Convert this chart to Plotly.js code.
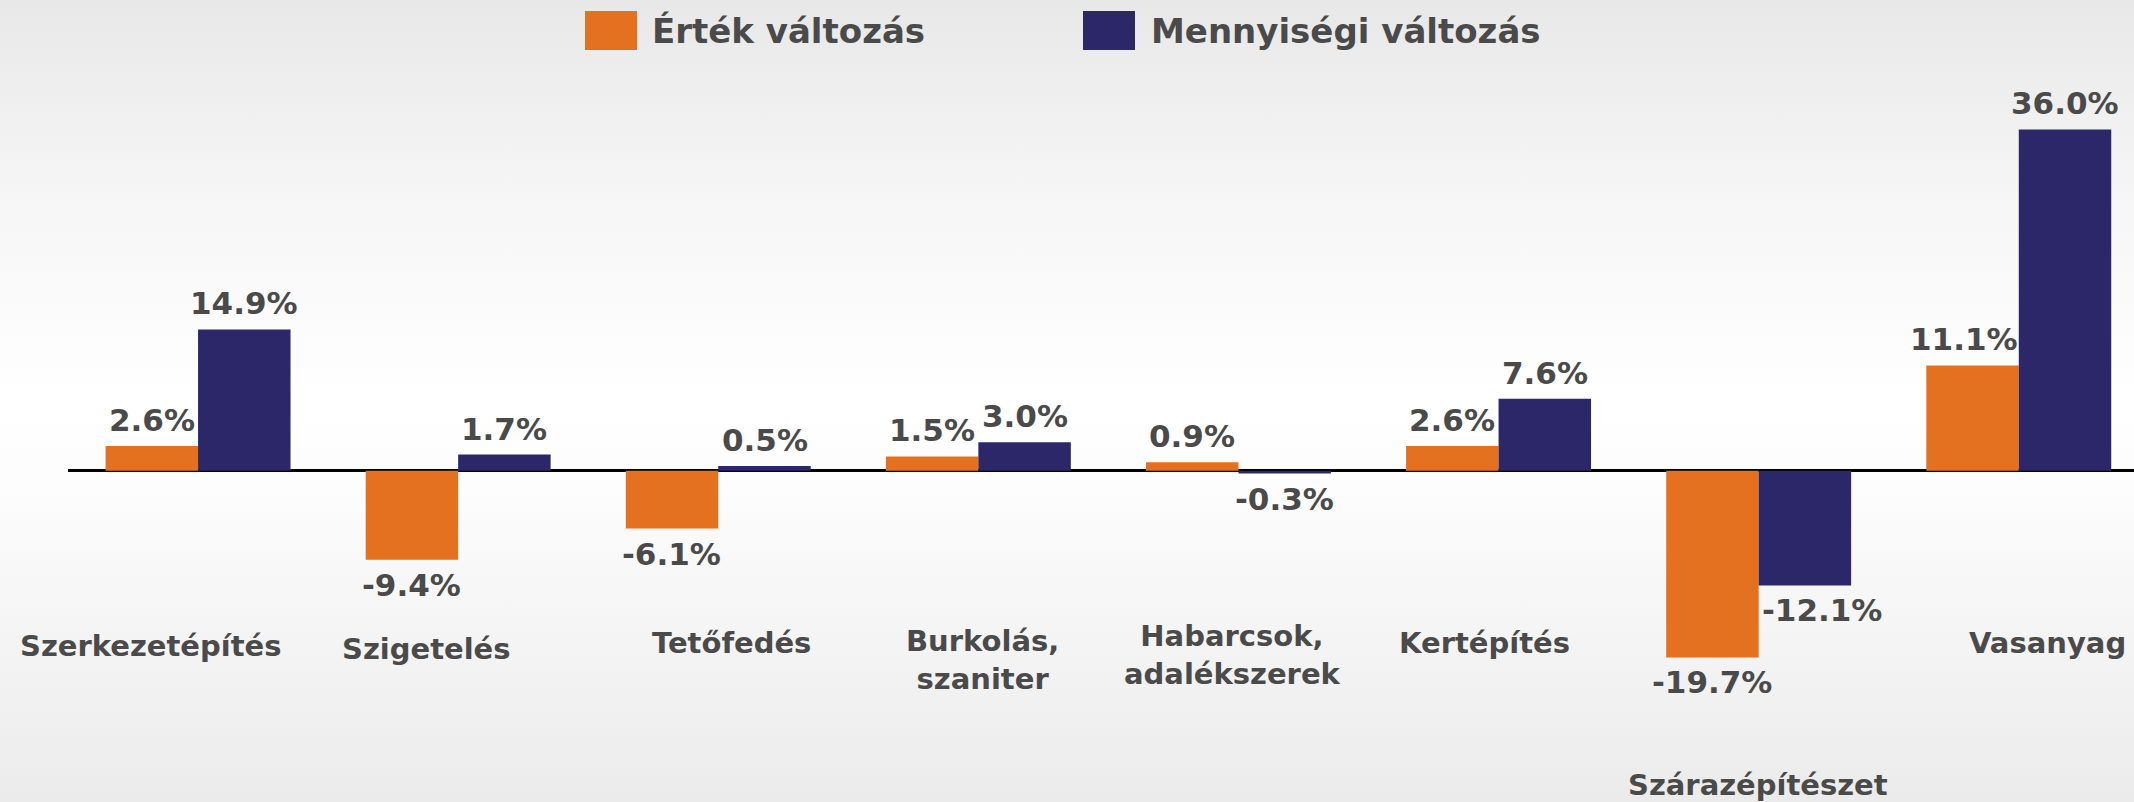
<!DOCTYPE html>
<html>
<head>
<meta charset="utf-8">
<script src="https://cdn.plot.ly/plotly-3.0.1.min.js"></script>
<style>
  html, body { margin: 0; padding: 0; }
  body {
    width: 2134px; height: 802px; overflow: hidden;
    background: linear-gradient(180deg, #e8e8e8 0%, #f6f6f6 25%, #ffffff 50%, #fcfcfc 62%, #ebebeb 100%);
  }
  #chart { width: 2134px; height: 802px; }
</style>
</head>
<body>
<div id="chart"></div>
<script>
// ---- data ----
const categories = ['Szerkezetépítés', 'Szigetelés', 'Tetőfedés', 'Burkolás, szaniter',
                    'Habarcsok, adalékszerek', 'Kertépítés', 'Szárazépítészet', 'Vasanyag'];
const ertekValtozas = [2.6, -9.4, -6.1, 1.5, 0.9, 2.6, -19.7, 11.1];
const mennyisegiValtozas = [14.9, 1.7, 0.5, 3.0, -0.3, 7.6, -12.1, 36.0];
const seriesNames = ['Érték változás', 'Mennyiségi változás'];

// ---- style / placement ----
const W = 2134, H = 802, ML = 68;
const PW = W - ML;
const colors = ['#E3711F', '#2C2768'];
const textColor = '#4a4a4a';
const fontFam = 'DejaVu Sans, Arial, sans-serif';
const catSpacing = 260.1;                       // px per category
const barHalfOffset = 0.178;                    // category units from group centre to bar centre
const labelNudgePx = [-48, -32, 13, 4, -6, -14, -1, 29];
const labelCenterY = [646, 649, 643, 660, 655, 643, 785, 643];
const valueLabelNudgePx = [[0,0,0,0,0,0,0,-8],[0,0,0,0,0,0,17,0]];

function fmt(v) { return v.toFixed(1) + '%'; }

const allSeries = [ertekValtozas, mennyisegiValtozas];

const traces = allSeries.map((vals, i) => ({
  type: 'bar',
  name: seriesNames[i],
  x: categories,
  y: vals,
  marker: { color: colors[i] },
  hovertext: vals.map(fmt),
  hoverinfo: 'x+text',
  showlegend: false
}));

const annotations = [];
// value labels
allSeries.forEach((vals, s) => {
  vals.forEach((v, i) => {
    annotations.push({
      xref: 'x', yref: 'y',
      x: i + (s === 0 ? -barHalfOffset : barHalfOffset) + valueLabelNudgePx[s][i] / catSpacing,
      y: v,
      xanchor: 'center',
      yanchor: v >= 0 ? 'bottom' : 'top',
      yshift: v >= 0 ? 6 : -5,
      text: '<b>' + fmt(v) + '</b>',
      showarrow: false,
      font: { family: fontFam, size: 31, color: textColor }
    });
  });
});
// category labels
categories.forEach((c, i) => {
  annotations.push({
    xref: 'x', yref: 'paper',
    x: i + labelNudgePx[i] / catSpacing,
    y: 1 - labelCenterY[i] / H,
    xanchor: 'center', yanchor: 'middle',
    text: '<b>' + c.replace(', ', ',<br>') + '</b>',
    showarrow: false,
    align: 'center',
    font: { family: fontFam, size: 29, color: textColor }
  });
});

// manual legend (paper x spans the plot area, which starts at ML)
const legendItems = [
  { x0: 585, x1: 637, tx: 650 },
  { x0: 1083, x1: 1135, tx: 1149 }
];
const px2paper = p => (p - ML) / PW;
const shapes = legendItems.map((it, i) => ({
  type: 'rect', xref: 'paper', yref: 'paper',
  x0: px2paper(it.x0), x1: px2paper(it.x1),
  y0: 1 - 50 / H, y1: 1 - 11 / H,
  fillcolor: colors[i], line: { width: 0 }
}));
legendItems.forEach((it, i) => {
  annotations.push({
    xref: 'paper', yref: 'paper',
    x: px2paper(it.tx), y: 1 - 31 / H,
    xanchor: 'left', yanchor: 'middle',
    text: '<b>' + seriesNames[i] + '</b>',
    showarrow: false,
    font: { family: fontFam, size: 34, color: textColor }
  });
});

const layout = {
  width: W, height: H,
  margin: { l: ML, r: 0, t: 0, b: 0, pad: 0 },
  paper_bgcolor: 'rgba(0,0,0,0)',
  plot_bgcolor: 'rgba(0,0,0,0)',
  barmode: 'group',
  bargap: 0.289,
  bargroupgap: 0,
  showlegend: false,
  xaxis: {
    type: 'category',
    range: [-0.5, 7.443],
    showticklabels: false, showgrid: false, zeroline: false, showline: false, ticks: ''
  },
  yaxis: {
    range: [-34.95, 49.65],
    showticklabels: false, showgrid: false, ticks: '',
    zeroline: true, zerolinecolor: '#000000', zerolinewidth: 2.5
  },
  annotations: annotations,
  shapes: shapes
};

Plotly.newPlot('chart', traces, layout, { staticPlot: true, displayModeBar: false });
</script>
</body>
</html>
